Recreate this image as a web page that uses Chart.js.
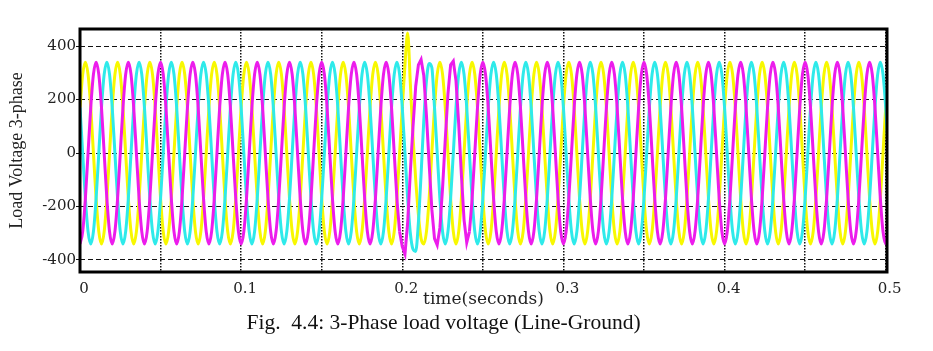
<!DOCTYPE html>
<html>
<head>
<meta charset="utf-8">
<script src="https://cdn.jsdelivr.net/npm/chart.js@4.4.0/dist/chart.umd.min.js"></script>
<style>
    html, body { margin: 0; padding: 0; background: #fff; }
    #wrap { position: relative; width: 933px; height: 351px; }
    #caption {
        position: absolute; left: 0; top: 310px; width: 887px;
        text-align: center; white-space: pre; color: #111;
        font: 21.5px "Liberation Serif", "Times New Roman", serif; line-height: 24px;
    }
</style>
</head>
<body>
<div id="wrap">
    <canvas id="voltChart" width="933" height="351"></canvas>
    <div id="caption">Fig.  4.4: 3-Phase load voltage (Line-Ground)</div>
</div>
<script>
// one sample every 1/600 s (12 per 50 Hz cycle)
const sampleStep = 1 / 600;

const phaseMagenta = [
    -340, -294, -170, 0, 170, 294, 340, 294, 170, 0, -170, -294,
    -340, -294, -170, 0, 170, 294, 340, 294, 170, 0, -170, -294,
    -340, -294, -170, 0, 170, 294, 340, 294, 170, 0, -170, -294,
    -340, -294, -170, 0, 170, 294, 340, 294, 170, 0, -170, -294,
    -340, -294, -170, 0, 170, 294, 340, 294, 170, 0, -170, -294,
    -340, -294, -170, 0, 170, 294, 340, 294, 170, 0, -170, -294,
    -340, -294, -170, 0, 170, 294, 340, 294, 170, 0, -170, -294,
    -340, -294, -170, 0, 170, 294, 340, 294, 170, 0, -170, -294,
    -340, -294, -170, 0, 170, 294, 340, 294, 170, 0, -170, -294,
    -340, -294, -170, 0, 170, 294, 340, 294, 170, 0, -170, -294,
    -350, -378, -260, -70, 100, 250, 330, 350, 290, 140, -40, -210,
    -320, -344, -280, -130, 50, 220, 330, 344, 270, 110, -80, -250,
    -335, -294, -170, 0, 170, 294, 340, 294, 170, 0, -170, -294,
    -340, -294, -170, 0, 170, 294, 340, 294, 170, 0, -170, -294,
    -340, -294, -170, 0, 170, 294, 340, 294, 170, 0, -170, -294,
    -340, -294, -170, 0, 170, 294, 340, 294, 170, 0, -170, -294,
    -340, -294, -170, 0, 170, 294, 340, 294, 170, 0, -170, -294,
    -340, -294, -170, 0, 170, 294, 340, 294, 170, 0, -170, -294,
    -340, -294, -170, 0, 170, 294, 340, 294, 170, 0, -170, -294,
    -340, -294, -170, 0, 170, 294, 340, 294, 170, 0, -170, -294,
    -340, -294, -170, 0, 170, 294, 340, 294, 170, 0, -170, -294,
    -340, -294, -170, 0, 170, 294, 340, 294, 170, 0, -170, -294,
    -340, -294, -170, 0, 170, 294, 340, 294, 170, 0, -170, -294,
    -340, -294, -170, 0, 170, 294, 340, 294, 170, 0, -170, -294,
    -340, -294, -170, 0, 170, 294, 340, 294, 170, 0, -170, -294,
    -340, -294
];

const phaseYellow = [
    170, 294, 340, 294, 170, 0, -170, -294, -340, -294, -170, 0,
    170, 294, 340, 294, 170, 0, -170, -294, -340, -294, -170, 0,
    170, 294, 340, 294, 170, 0, -170, -294, -340, -294, -170, 0,
    170, 294, 340, 294, 170, 0, -170, -294, -340, -294, -170, 0,
    170, 294, 340, 294, 170, 0, -170, -294, -340, -294, -170, 0,
    170, 294, 340, 294, 170, 0, -170, -294, -340, -294, -170, 0,
    170, 294, 340, 294, 170, 0, -170, -294, -340, -294, -170, 0,
    170, 294, 340, 294, 170, 0, -170, -294, -340, -294, -170, 0,
    170, 294, 340, 294, 170, 0, -170, -294, -340, -294, -170, 0,
    170, 294, 340, 294, 170, 0, -170, -294, -340, -294, -170, 0,
    170, 330, 449, 260, 60, -100, -230, -320, -340, -294, -170, 0,
    170, 294, 340, 294, 170, 0, -170, -294, -340, -294, -170, 0,
    170, 294, 340, 294, 170, 0, -170, -294, -340, -294, -170, 0,
    170, 294, 340, 294, 170, 0, -170, -294, -340, -294, -170, 0,
    170, 294, 340, 294, 170, 0, -170, -294, -340, -294, -170, 0,
    170, 294, 340, 294, 170, 0, -170, -294, -340, -294, -170, 0,
    170, 294, 340, 294, 170, 0, -170, -294, -340, -294, -170, 0,
    170, 294, 340, 294, 170, 0, -170, -294, -340, -294, -170, 0,
    170, 294, 340, 294, 170, 0, -170, -294, -340, -294, -170, 0,
    170, 294, 340, 294, 170, 0, -170, -294, -340, -294, -170, 0,
    170, 294, 340, 294, 170, 0, -170, -294, -340, -294, -170, 0,
    170, 294, 340, 294, 170, 0, -170, -294, -340, -294, -170, 0,
    170, 294, 340, 294, 170, 0, -170, -294, -340, -294, -170, 0,
    170, 294, 340, 294, 170, 0, -170, -294, -340, -294, -170, 0,
    170, 294, 340, 294, 170, 0, -170, -294, -340, -294, -170, 0,
    170, 294
];

const phaseCyan = [
    170, 0, -170, -294, -340, -294, -170, 0, 170, 294, 340, 294,
    170, 0, -170, -294, -340, -294, -170, 0, 170, 294, 340, 294,
    170, 0, -170, -294, -340, -294, -170, 0, 170, 294, 340, 294,
    170, 0, -170, -294, -340, -294, -170, 0, 170, 294, 340, 294,
    170, 0, -170, -294, -340, -294, -170, 0, 170, 294, 340, 294,
    170, 0, -170, -294, -340, -294, -170, 0, 170, 294, 340, 294,
    170, 0, -170, -294, -340, -294, -170, 0, 170, 294, 340, 294,
    170, 0, -170, -294, -340, -294, -170, 0, 170, 294, 340, 294,
    170, 0, -170, -294, -340, -294, -170, 0, 170, 294, 340, 294,
    170, 0, -170, -294, -340, -294, -170, 0, 170, 294, 340, 294,
    170, 0, -170, -300, -360, -368, -260, -80, 120, 270, 335, 320,
    170, 0, -170, -294, -340, -294, -170, 0, 170, 294, 340, 294,
    170, 0, -170, -294, -340, -294, -170, 0, 170, 294, 340, 294,
    170, 0, -170, -294, -340, -294, -170, 0, 170, 294, 340, 294,
    170, 0, -170, -294, -340, -294, -170, 0, 170, 294, 340, 294,
    170, 0, -170, -294, -340, -294, -170, 0, 170, 294, 340, 294,
    170, 0, -170, -294, -340, -294, -170, 0, 170, 294, 340, 294,
    170, 0, -170, -294, -340, -294, -170, 0, 170, 294, 340, 294,
    170, 0, -170, -294, -340, -294, -170, 0, 170, 294, 340, 294,
    170, 0, -170, -294, -340, -294, -170, 0, 170, 294, 340, 294,
    170, 0, -170, -294, -340, -294, -170, 0, 170, 294, 340, 294,
    170, 0, -170, -294, -340, -294, -170, 0, 170, 294, 340, 294,
    170, 0, -170, -294, -340, -294, -170, 0, 170, 294, 340, 294,
    170, 0, -170, -294, -340, -294, -170, 0, 170, 294, 340, 294,
    170, 0, -170, -294, -340, -294, -170, 0, 170, 294, 340, 294,
    170, 0
];

// sample indices of the fault window, where the magenta trace turns jagged
const faultFrom = 119;
const faultTo = 145;

const xTicks = [0, 0.05, 0.1, 0.15, 0.2, 0.25, 0.3, 0.35, 0.4, 0.45, 0.5];
const xTickLabels = ['0', '', '0.1', '', '0.2', '', '0.3', '', '0.4', '', '0.5'];
const yTicks = [-400, -200, 0, 200, 400];

const toPoints = (vals) => vals.map((v, i) => ({ x: i * sampleStep, y: v }));

const magentaSmooth = phaseMagenta.map((v, i) => (i > faultFrom && i < faultTo ? null : v));
const magentaFault = phaseMagenta.map((v, i) => (i >= faultFrom && i <= faultTo ? v : null));

const tickFont = 'DejaVu Serif';
const titleFont = 'Liberation Serif';

const frameBox = {
    id: 'frameBox',
    afterDraw(chart) {
        const { ctx, chartArea: a } = chart;
        ctx.save();
        ctx.strokeStyle = '#000';
        ctx.lineWidth = 3;
        ctx.strokeRect(a.left, a.top, a.right - a.left, a.bottom - a.top);
        ctx.restore();
    }
};

const traceStyle = (color) => ({
    borderColor: color,
    borderWidth: 3,
    pointRadius: 0,
    fill: false,
    spanGaps: false,
    cubicInterpolationMode: 'monotone'
});

const voltCtx = document.getElementById('voltChart');

const voltChart = new Chart(voltCtx, {
    type: 'line',
    data: {
        datasets: [
            { label: 'Phase B', data: toPoints(magentaSmooth), ...traceStyle('#ec1cec') },
            { label: 'Phase B fault', data: toPoints(magentaFault), ...traceStyle('#ec1cec'), cubicInterpolationMode: 'default', tension: 0 },
            { label: 'Phase C', data: toPoints(phaseCyan), ...traceStyle('#2eeaea') },
            { label: 'Phase A', data: toPoints(phaseYellow), ...traceStyle('#f8f800') }
        ]
    },
    options: {
        responsive: false,
        animation: false,
        devicePixelRatio: 1,
        layout: {
            padding: { top: 29, right: 46, bottom: 39, left: 0 }
        },
        scales: {
            x: {
                type: 'linear',
                min: 0,
                max: 0.5008,
                z: 1,
                afterBuildTicks: (s) => { s.ticks = xTicks.map(v => ({ value: v })); },
                afterFit: (s) => { s.height = 40; },
                border: { display: false, dash: [1.5, 1.5] },
                grid: {
                    color: '#111',
                    lineWidth: 1.5,
                    drawTicks: false
                },
                ticks: {
                    color: '#222',
                    autoSkip: false,
                    maxRotation: 0,
                    padding: 8,
                    labelOffset: 4,
                    font: { family: tickFont, size: 15 },
                    callback: (v, i) => xTickLabels[i]
                },
                title: {
                    display: true,
                    text: 'time(seconds)',
                    color: '#222',
                    font: { family: tickFont, size: 17 },
                    padding: { top: 0, bottom: 2 }
                }
            },
            y: {
                min: -445,
                max: 464,
                z: 1,
                afterBuildTicks: (s) => { s.ticks = yTicks.map(v => ({ value: v })); },
                afterFit: (s) => { s.width = 80; },
                border: { display: false, dash: [5, 3] },
                grid: {
                    color: '#111',
                    lineWidth: 1,
                    tickLength: 4,
                    tickColor: '#111',
                    tickBorderDash: []
                },
                ticks: {
                    color: '#222',
                    padding: 0,
                    font: { family: tickFont, size: 15 }
                },
                title: {
                    display: true,
                    text: 'Load Voltage 3-phase',
                    color: '#222',
                    font: { family: titleFont, size: 18 },
                    padding: { top: 6, bottom: 0 }
                }
            }
        },
        plugins: {
            legend: { display: false },
            tooltip: { enabled: false }
        }
    },
    plugins: [frameBox]
});
</script>
</body>
</html>
